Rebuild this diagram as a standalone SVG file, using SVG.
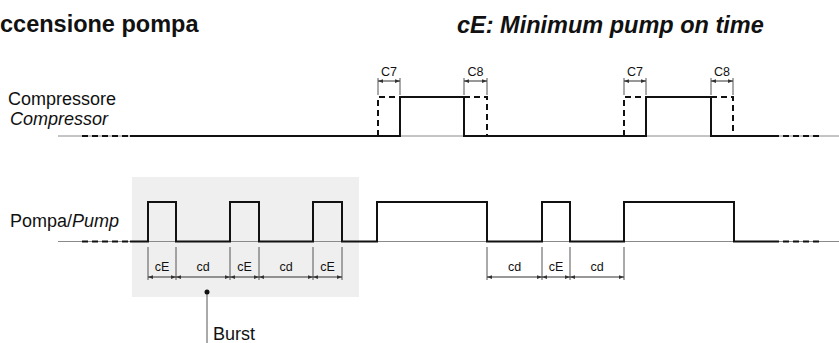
<svg xmlns="http://www.w3.org/2000/svg" width="839" height="343" viewBox="0 0 839 343">
<style>
text{font-family:"Liberation Sans",Arial,sans-serif;fill:#111}
.title{font-size:23.5px;font-weight:bold}
.lbl{font-size:18px}
.dim{font-size:12.5px;text-anchor:middle}
.ref{stroke:#8a8a8a;stroke-width:1;fill:none}
.sig{stroke:#111;stroke-width:2;fill:none;stroke-linejoin:miter}
.dash{stroke:#111;stroke-width:2;fill:none;stroke-dasharray:6 4}
.ext{stroke:#555;stroke-width:1;fill:none}
.arr{stroke:#333;stroke-width:1;fill:none;marker-start:url(#ah);marker-end:url(#ah)}
</style>
<defs>
<marker id="ah" viewBox="0 0 8 6" refX="8" refY="3" markerWidth="5" markerHeight="4" markerUnits="userSpaceOnUse" orient="auto-start-reverse">
<path d="M0,0 L8,3 L0,6 z" fill="#333"/>
</marker>
</defs>
<rect id="burst-area" x="132" y="177" width="227" height="120" fill="#efefef"/>
<g id="titles">
<text class="title" x="0" y="32">ccensione pompa</text>
<text class="title" x="457" y="33" font-style="italic" font-size="24">cE: Minimum pump on time</text>
</g>
<g id="labels">
<text class="lbl" x="8" y="105">Compressore</text>
<text class="lbl" x="10" y="125" font-style="italic">Compressor</text>
<text class="lbl" x="10" y="227">Pompa/<tspan font-style="italic">Pump</tspan></text>
</g>
<g id="compressor">
<line class="ref" x1="58" y1="136" x2="839" y2="136"/>
<path class="dash" d="M82,136 H130 M773,136 H823" stroke-dasharray="8 4"/>
<path class="sig" d="M130,136 H400 V97 H464 V136 H646 V97 H711 V136 H773"/>
<path class="dash" d="M378,136 V97 H400 M464,97 H487 V136 M624,136 V97 H646 M711,97 H733 V136"/>
</g>
<g id="pump">
<line class="ref" x1="58" y1="241.5" x2="839" y2="241.5"/>
<path class="dash" d="M82,241.5 H130 M773,241.5 H823" stroke-dasharray="8 4"/>
<path class="sig" d="M130,241.5 H148 V202 H176 V241.5 H230 V202 H259 V241.5 H313 V202 H342 V241.5 H377 V202 H487 V241.5 H542 V202 H570 V241.5 H624 V202 H734 V241.5 H773"/>
</g>
<g id="connectors">
<g id="dim-compressor">
<path class="ext" d="M378,78 V95 M400,78 V95 M464,78 V95 M487,78 V95 M624,78 V95 M646,78 V95 M711,78 V95 M733,78 V95"/>
<line class="arr" x1="378" y1="81" x2="400" y2="81"/>
<line class="arr" x1="464" y1="81" x2="487" y2="81"/>
<line class="arr" x1="624" y1="81" x2="646" y2="81"/>
<line class="arr" x1="711" y1="81" x2="733" y2="81"/>
</g>
<g id="dim-pump">
<path class="ext" d="M148,247 V280 M176,247 V280 M230,247 V280 M259,247 V280 M313,247 V280 M342,247 V280 M487,247 V280 M542,247 V280 M570,247 V280 M624,247 V280"/>
<line class="arr" x1="148" y1="277" x2="176" y2="277"/>
<line class="arr" x1="176" y1="277" x2="230" y2="277"/>
<line class="arr" x1="230" y1="277" x2="259" y2="277"/>
<line class="arr" x1="259" y1="277" x2="313" y2="277"/>
<line class="arr" x1="313" y1="277" x2="342" y2="277"/>
<line class="arr" x1="487" y1="277" x2="542" y2="277"/>
<line class="arr" x1="542" y1="277" x2="570" y2="277"/>
<line class="arr" x1="570" y1="277" x2="624" y2="277"/>
</g>
<g id="burst-leader">
<line x1="207" y1="292" x2="207" y2="343" stroke="#555" stroke-width="1"/>
<circle cx="207" cy="292" r="2.5" fill="#111"/>
</g>
</g>
<g id="dim-labels">
<text class="dim" x="389" y="76">C7</text>
<text class="dim" x="475.5" y="76">C8</text>
<text class="dim" x="635" y="76">C7</text>
<text class="dim" x="722" y="76">C8</text>
<text class="dim" x="162" y="271">cE</text>
<text class="dim" x="203" y="271">cd</text>
<text class="dim" x="244.5" y="271">cE</text>
<text class="dim" x="286" y="271">cd</text>
<text class="dim" x="327.5" y="271">cE</text>
<text class="dim" x="514.5" y="271">cd</text>
<text class="dim" x="556" y="271">cE</text>
<text class="dim" x="597" y="271">cd</text>
</g>
<g id="burst-label">
<text class="lbl" x="213" y="340" font-size="17">Burst</text>
</g>
</svg>
